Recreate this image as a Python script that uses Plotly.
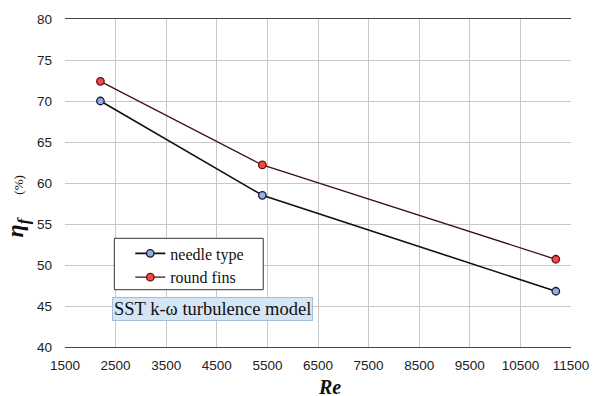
import plotly.graph_objects as go

# Reynolds number and fin efficiency (%)
re_values = [2200, 5400, 11200]
needle_type = [70.0, 58.5, 46.8]
round_fins = [72.4, 62.2, 50.7]

x_ticks = [1500, 2500, 3500, 4500, 5500, 6500, 7500, 8500, 9500, 10500, 11500]
y_ticks = [40, 45, 50, 55, 60, 65, 70, 75, 80]

SERIF = "Liberation Serif, Times New Roman, serif"
tick_font = dict(family="Liberation Sans, Arial, sans-serif", size=13.5, color="#222222")


def serif_label(text):
    return f"<span style='font-family:Liberation Serif, serif'>{text}</span>"


fig = go.Figure()
fig.add_trace(go.Scatter(
    x=re_values, y=needle_type, mode="lines+markers", name=serif_label("needle type"),
    line=dict(color="#111111", width=1.6),
    marker=dict(size=7.5, color="#8fb0e0", line=dict(color="#1a1a3a", width=1.3)),
))
fig.add_trace(go.Scatter(
    x=re_values, y=round_fins, mode="lines+markers", name=serif_label("round fins"),
    line=dict(color="#3e1216", width=1.3),
    marker=dict(size=7.5, color="#ee4a46", line=dict(color="#6a1010", width=1.3)),
))

fig.update_layout(
    width=601, height=396,
    margin=dict(l=65, r=23, t=15, b=49),
    paper_bgcolor="white", plot_bgcolor="white",
    font=dict(family=SERIF, size=16, color="#111111"),
    showlegend=True,
    legend=dict(
        x=0.129, y=0.337, xanchor="left", yanchor="top",
        bgcolor="rgba(0,0,0,0)", borderwidth=0,
        font=dict(family=SERIF, size=16, color="#111111"),
        itemwidth=30,
    ),
    xaxis=dict(
        range=[1500, 11500], tickvals=x_ticks, ticktext=[str(v) for v in x_ticks],
        showgrid=True, gridcolor="#c8c8c8", gridwidth=1.3,
        showline=True, linecolor="#444444", linewidth=1.3, mirror=True,
        zeroline=False, ticks="", tickfont=tick_font, ticklabelstandoff=6,
    ),
    yaxis=dict(
        range=[40, 80], tickvals=y_ticks, ticktext=[str(v) for v in y_ticks],
        showgrid=True, gridcolor="#c8c8c8", gridwidth=1.3,
        showline=False, zeroline=False, ticks="", tickfont=tick_font,
        ticklabelstandoff=12,
    ),
    shapes=[
        # legend frame
        dict(type="rect", xref="paper", yref="paper",
             x0=(115 - 65) / 513, x1=(266 - 65) / 513,
             y0=(347 - 289) / 332, y1=(347 - 237) / 332,
             fillcolor="white", line=dict(color="#333333", width=1), layer="above"),
    ],
    annotations=[
        dict(
            text="<b><i>Re</i></b>", xref="paper", yref="paper",
            x=0.523, y=-0.122, xanchor="center", yanchor="middle", showarrow=False,
            font=dict(family=SERIF, size=20, color="#111111"),
        ),
        dict(
            text="<b><i>η<sub>f</sub></i></b>    <span style='font-size:13px;font-weight:normal'>(%)</span>",
            xref="paper", yref="paper", x=-0.094, y=0.43, textangle=-90,
            xanchor="center", yanchor="middle", showarrow=False,
            font=dict(family=SERIF, size=24, color="#111111"),
        ),
        dict(
            text="SST k-ω turbulence model", xref="paper", yref="paper",
            x=(113 - 65) / 513, y=(347 - 296) / 332, xanchor="left", yanchor="top",
            showarrow=False,
            bgcolor="#d4e5f5", bordercolor="#9fbfdc", borderwidth=1, borderpad=1,
            font=dict(family=SERIF, size=18.5, color="#111111"),
        ),
    ],
)

fig.write_html("out.html")
